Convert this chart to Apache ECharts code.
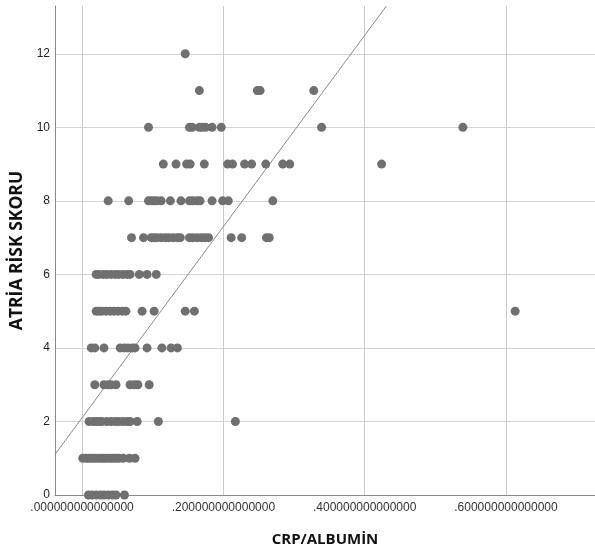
<!DOCTYPE html>
<html>
<head>
<meta charset="utf-8">
<script src="https://cdn.jsdelivr.net/npm/echarts@6/dist/echarts.min.js"></script>
<style>
html,body{margin:0;padding:0;background:#fff;}
#chart{width:595px;height:553px;}
</style>
</head>
<body>
<div id="chart"></div>
<script>
// CRP/ALBUMİN values grouped by ATRİA RİSK SKORU
var score0 = [0.009, 0.014, 0.020, 0.026, 0.031, 0.037, 0.043, 0.048, 0.060];
var score1 = [0.001, 0.006, 0.010, 0.014, 0.018, 0.023, 0.027, 0.031, 0.035, 0.040, 0.044, 0.048, 0.052, 0.058, 0.067, 0.075];
var score2 = [0.010, 0.016, 0.020, 0.024, 0.028, 0.035, 0.041, 0.047, 0.052, 0.058, 0.064, 0.068, 0.078, 0.108, 0.217];
var score3 = [0.018, 0.031, 0.037, 0.041, 0.048, 0.068, 0.074, 0.079, 0.095];
var score4 = [0.013, 0.018, 0.031, 0.054, 0.060, 0.065, 0.071, 0.075, 0.092, 0.113, 0.126, 0.135];
var score5 = [0.020, 0.024, 0.028, 0.034, 0.040, 0.045, 0.051, 0.057, 0.062, 0.085, 0.102, 0.146, 0.159, 0.613];
var score6 = [0.020, 0.024, 0.030, 0.035, 0.041, 0.047, 0.052, 0.058, 0.064, 0.068, 0.081, 0.092, 0.105];
var score7 = [0.070, 0.087, 0.098, 0.102, 0.106, 0.112, 0.118, 0.123, 0.129, 0.135, 0.139, 0.152, 0.157, 0.163, 0.169, 0.174, 0.179, 0.211, 0.226, 0.261, 0.265];
var score8 = [0.037, 0.066, 0.094, 0.098, 0.102, 0.106, 0.112, 0.125, 0.140, 0.152, 0.157, 0.163, 0.167, 0.184, 0.199, 0.207, 0.270];
var score9 = [0.115, 0.133, 0.148, 0.153, 0.173, 0.206, 0.213, 0.230, 0.240, 0.260, 0.284, 0.294, 0.424];
var score10 = [0.094, 0.152, 0.156, 0.166, 0.170, 0.175, 0.184, 0.197, 0.339, 0.539];
var score11 = [0.166, 0.248, 0.252, 0.328];
var score12 = [0.146];

var xTickValues = [0, 0.2, 0.4, 0.6];
var yTickValues = [0, 2, 4, 6, 8, 10, 12];

// linear fit line
var fitIntercept = 2.1;
var fitSlope = 26.0;

var xMin = -0.0383, xMax = 0.726, yMin = 0, yMax = 13.3;

var groups = [score0, score1, score2, score3, score4, score5, score6, score7, score8, score9, score10, score11, score12];
var points = [];
groups.forEach(function (arr, score) {
  arr.forEach(function (v) { points.push([v, score]); });
});

var xEnd = (yMax - fitIntercept) / fitSlope;
var fitData = [[xMin, fitIntercept + fitSlope * xMin], [xEnd, fitIntercept + fitSlope * xEnd]];

var titleFont = "'Open Sans', sans-serif";

var chart = echarts.init(document.getElementById('chart'), null, {renderer: 'canvas'});
chart.setOption({
  animation: false,
  backgroundColor: '#ffffff',
  grid: {left: 55, right: 0, top: 6, bottom: 58, containLabel: false, outerBoundsMode: 'none'},
  xAxis: {
    type: 'value',
    min: xMin, max: xMax,
    name: 'CRP/ALBUMİN',
    nameLocation: 'middle',
    nameGap: 37,
    nameTextStyle: {fontFamily: titleFont, fontWeight: 'bold', fontSize: 15, color: '#111'},
    axisLine: {show: true, onZero: false, lineStyle: {color: '#8a8a8a', width: 1}},
    axisTick: {show: false, customValues: xTickValues},
    axisLabel: {
      customValues: xTickValues,
      fontFamily: 'Liberation Sans', fontSize: 12, color: '#333', margin: 7,
      formatter: function (v) { return v.toFixed(15).slice(1); }
    },
    splitLine: {show: true, lineStyle: {color: '#cccccc', width: 1}}
  },
  yAxis: {
    type: 'value',
    min: yMin, max: yMax,
    name: 'ATRİA RİSK SKORU',
    nameLocation: 'middle',
    nameGap: 28,
    nameTextStyle: {fontFamily: titleFont, fontWeight: 'bold', fontSize: 17.5, color: '#111'},
    axisLine: {show: true, onZero: false, lineStyle: {color: '#8a8a8a', width: 1}},
    axisTick: {show: false, customValues: yTickValues},
    axisLabel: {
      customValues: yTickValues,
      fontFamily: 'Liberation Sans', fontSize: 12, color: '#222', margin: 5
    },
    splitLine: {show: true, lineStyle: {color: '#d4d4d4', width: 1}}
  },
  series: [
    {
      type: 'scatter',
      data: points,
      symbol: 'circle',
      symbolSize: 9,
      itemStyle: {color: '#707070', opacity: 1},
      z: 3
    },
    {
      type: 'line',
      data: fitData,
      symbol: 'none',
      lineStyle: {color: '#8a8a8a', width: 1},
      silent: true,
      z: 2
    }
  ]
});
</script>
</body>
</html>
